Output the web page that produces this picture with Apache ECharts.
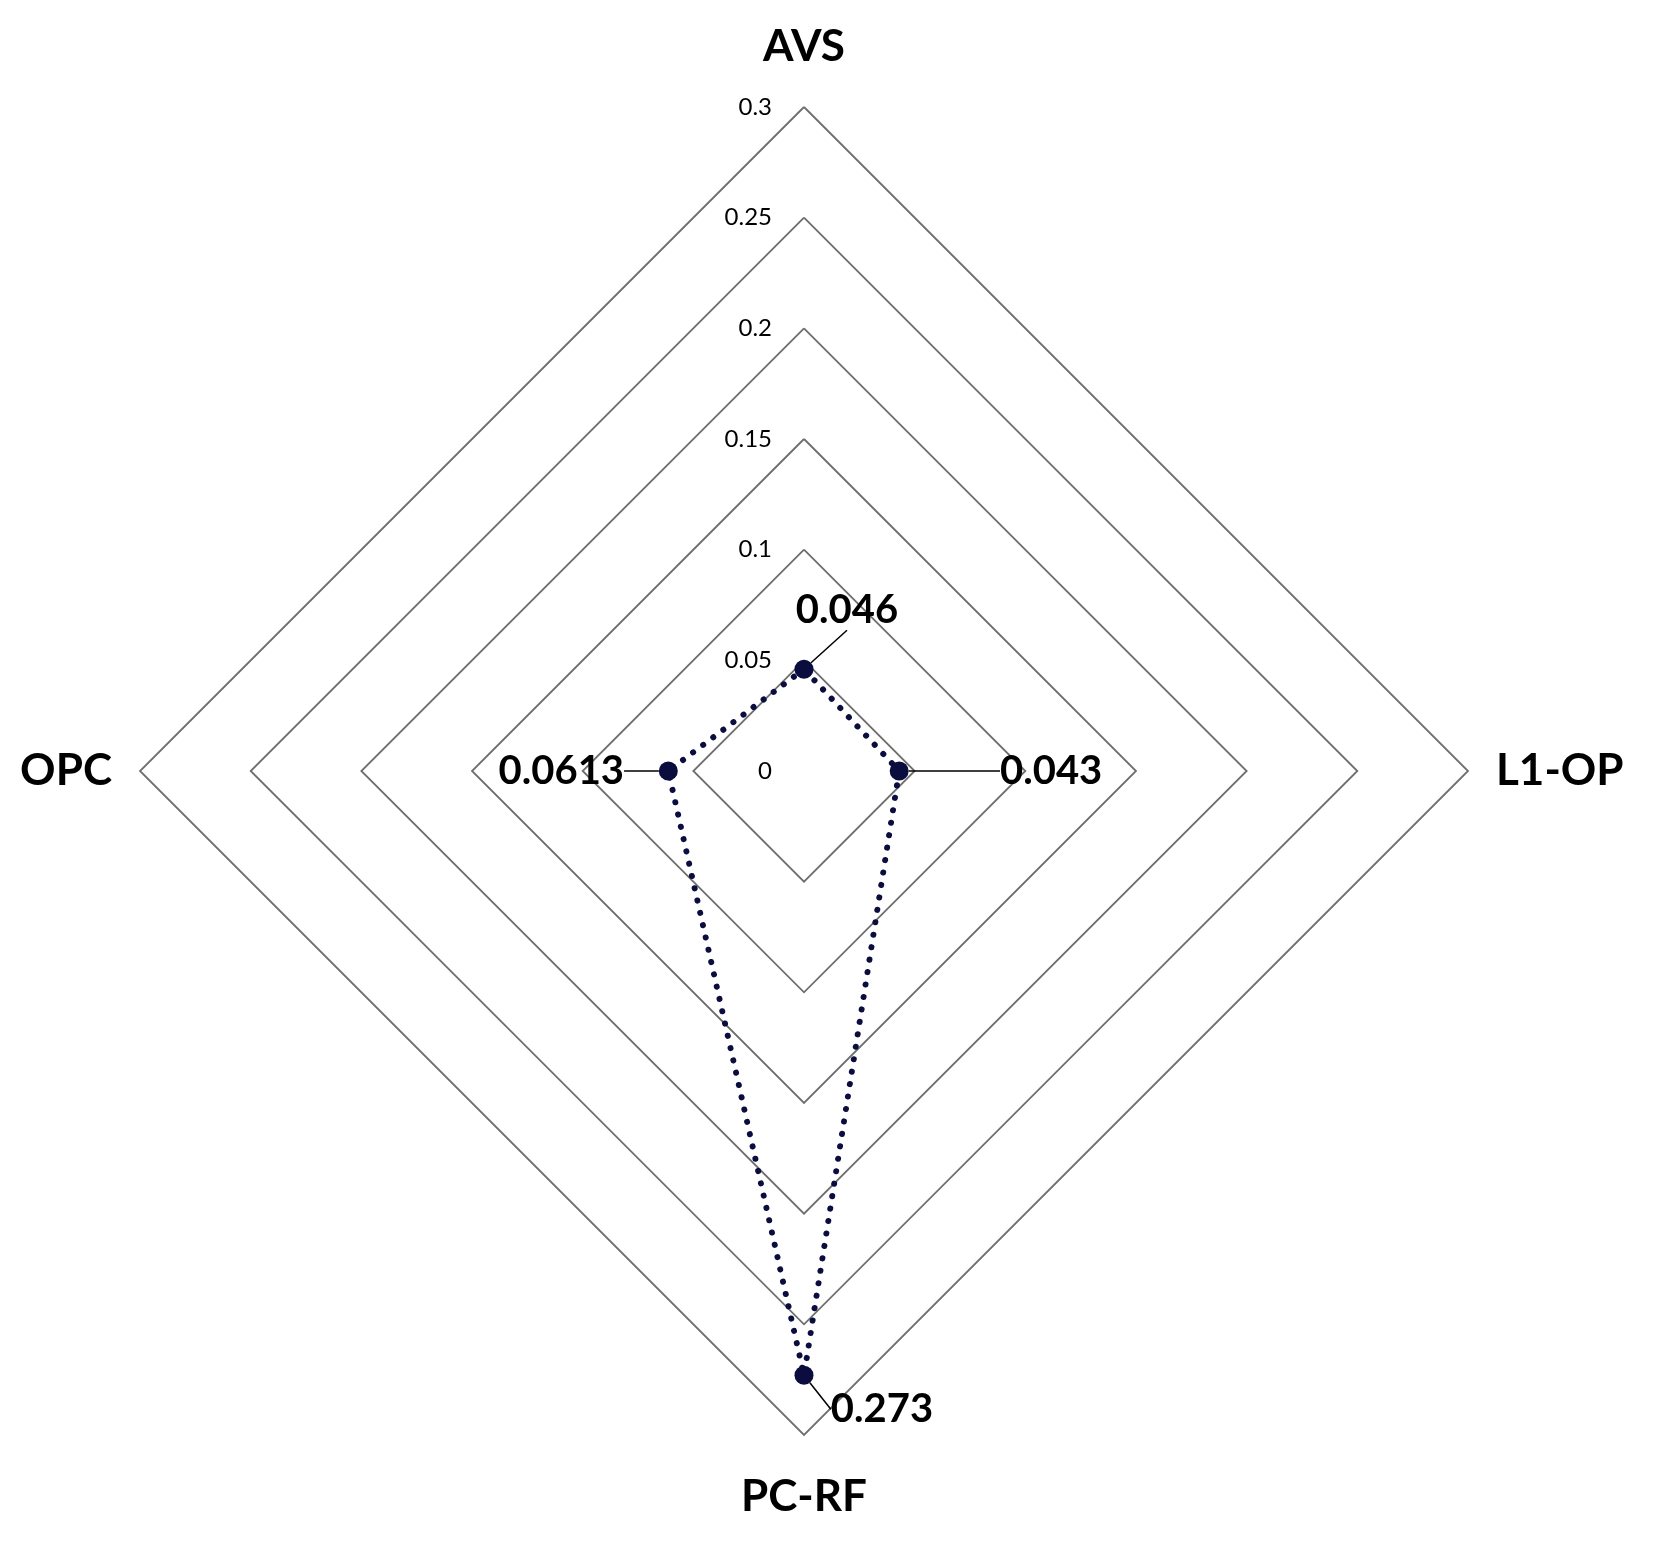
<!DOCTYPE html>
<html><head><meta charset="utf-8">
<script src="https://cdn.jsdelivr.net/npm/echarts@6/dist/echarts.min.js"></script>
<style>html,body{margin:0;padding:0;background:#fff}#c{width:1667px;height:1558px}</style>
</head><body><div id="c"></div>
<script>
// Data (order follows ECharts radar placement, which runs counter-clockwise from the top)
const categories = ['AVS', 'OPC', 'PC-RF', 'L1-OP'];
const values = [0.046, 0.0613, 0.273, 0.043];
const valueLabels = ['0.046', '0.0613', '0.273', '0.043'];
const tickLabels = ['0', '0.05', '0.1', '0.15', '0.2', '0.25', '0.3'];
const axisMin = 0;
const axisMax = 0.3;

// label offsets and name gaps (style, not data): per category
const labelOffsets = { 'AVS': [43, -59], 'OPC': [-107, 0], 'PC-RF': [78, 34], 'L1-OP': [152, 0] };
const nameGaps = { 'AVS': 38, 'OPC': 28, 'PC-RF': 40, 'L1-OP': 28 };

const chart = echarts.init(document.getElementById('c'), null, { renderer: 'canvas' });
const FONT = 'Lato, "Open Sans", sans-serif';
const lineColor = '#0b0d3f';

chart.setOption({
  backgroundColor: '#ffffff',
  animation: false,
  radar: {
    center: [804, 771],
    radius: 664,
    startAngle: 90,
    shape: 'polygon',
    splitNumber: tickLabels.length - 1,
    indicator: categories.map((name, i) => ({
      name: name,
      min: axisMin,
      max: axisMax,
      nameGap: nameGaps[name],
      axisLabel: { show: i === 0 }
    })),
    axisName: { color: '#000', fontSize: 44, fontWeight: 'bold', fontFamily: FONT },
    nameGap: 28,
    axisLine: { show: false },
    axisTick: { show: false },
    axisLabel: {
      show: false,
      color: '#000',
      fontSize: 24,
      fontFamily: FONT,
      margin: 32,
      formatter: (v, idx) => tickLabels[idx]
    },
    splitLine: { lineStyle: { color: '#6e6e6e', width: 1.8 } },
    splitArea: { show: false }
  },
  series: [{
    type: 'radar',
    symbol: 'circle',
    symbolSize: 19,
    itemStyle: { color: lineColor },
    lineStyle: { color: lineColor, width: 6, type: [0.1, 12.5], cap: 'round' },
    label: {
      show: true,
      position: 'inside',
      color: '#000',
      fontSize: 40,
      fontWeight: 'bold',
      fontFamily: FONT,
      formatter: p => valueLabels[values.indexOf(p.value)]
    },
    labelLine: { show: true, lineStyle: { color: '#000', width: 1.5 } },
    labelLayout: function (p) {
      const i = valueLabels.indexOf(p.text);
      const o = labelOffsets[categories[i]] || [0, 0];
      return { dx: o[0], dy: o[1] };
    },
    data: [{ value: values, name: 'series' }]
  }]
});
</script>
</body></html>
